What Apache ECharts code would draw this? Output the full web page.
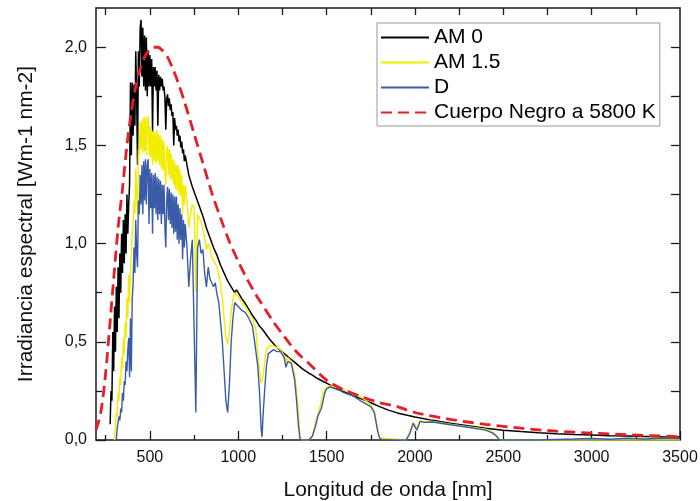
<!DOCTYPE html>
<html>
<head>
<meta charset="utf-8">
<script src="https://cdn.jsdelivr.net/npm/echarts@6/dist/echarts.min.js"></script>
<style>html,body{margin:0;padding:0;background:#fff}#c{width:700px;height:501px}</style>
</head>
<body>
<div id="c"></div>
<script>
// ---- DATA ----
const am0Wl = [275,280,285,290,295,300,305,310,315,320,325,330,335,340,345,350,355,360,365,370,375,380,385,390,395,400,405,410,415,420,425,430,435,440,445,450,455,460,465,470,475,480,485,490,495,500,505,510,515,520,525,530,535,540,545,550,555,560,565,570,575,580,585,590,595,600,605,610,615,620,625,630,635,640,645,650,655,660,665,670,675,680,685,690,695,700,
710,720,730,740,750,760,770,780,790,800,810,820,830,840,850,860,870,880,890,900,910,920,930,940,950,960,970,980,990,1000,
1020,1040,1060,1080,1100,1120,1140,1160,1180,1200,1220,1240,1260,1280,1300,1320,1340,1360,1380,1400,1420,1440,1460,1480,1500,
1550,1600,1650,1700,1750,1800,1850,1900,1950,2000,2100,2200,2300,2400,2500,2600,2700,2800,2900,3000,3100,3200,3300,3400,3500];
const am0 = [0.08,0.25,0.20,0.55,0.35,0.68,0.45,0.78,0.55,0.88,0.62,0.95,0.75,1.05,0.85,1.12,0.90,1.15,0.95,1.25,1.05,1.20,1.30,1.82,1.45,1.82,1.55,1.81,1.60,1.98,1.75,1.40,1.98,1.80,2.10,2.14,1.85,2.10,1.80,2.06,1.78,2.05,1.75,1.98,1.80,1.96,1.80,1.94,1.57,1.90,1.80,1.90,1.78,1.88,1.60,1.86,1.78,1.85,1.80,1.84,1.78,1.80,1.74,1.58,1.74,1.76,1.70,1.74,1.68,1.71,1.65,1.67,1.50,1.64,1.58,1.60,1.55,1.58,1.52,1.55,1.49,1.52,1.46,1.48,1.42,1.45,
1.40,1.35,1.34,1.29,1.30,1.24,1.25,1.19,1.20,1.14,1.14,1.08,1.085,1.03,1.04,0.98,0.99,0.94,0.94,0.89,0.89,0.85,0.85,0.81,0.81,0.78,0.785,0.75,0.765,0.75,
0.72,0.695,0.665,0.635,0.61,0.58,0.56,0.535,0.51,0.49,0.47,0.455,0.44,0.425,0.41,0.395,0.38,0.365,0.352,0.34,0.33,0.318,0.308,0.298,0.29,
0.265,0.245,0.225,0.208,0.19,0.17,0.152,0.138,0.127,0.117,0.10,0.085,0.072,0.06,0.05,0.043,0.037,0.032,0.028,0.025,0.022,0.02,0.018,0.016,0.015];

const am15Wl = [300,305,310,315,320,325,330,335,340,345,350,355,360,365,370,375,380,385,390,395,400,405,410,415,420,425,430,435,440,445,450,455,460,465,470,475,480,485,490,495,500,505,510,515,520,525,530,535,540,545,550,555,560,565,570,575,580,585,590,595,600,605,610,615,620,625,630,635,640,645,650,655,660,665,670,675,680,685,690,695,700,
710,720,730,740,750,760,770,780,790,800,810,820,830,840,850,860,870,880,890,900,910,920,930,940,950,960,970,980,990,1000,
1020,1040,1060,1080,1100,1110,1120,1130,1140,1150,1160,1180,1200,1220,1240,1260,1270,1280,1300,1320,1330,1340,1350,1360,1400,1420,1440,1460,1480,1500,1520,1550,1600,1650,1700,1750,1770,1780,1790,1800,1810,1950,1970,1990,2010,2030,2050,2100,2200,2300,2400,2440,2460,2480,3500];
const am15 = [0,0.08,0.14,0.12,0.24,0.20,0.32,0.28,0.42,0.36,0.52,0.44,0.60,0.52,0.72,0.62,0.84,0.70,0.85,0.95,1.05,1.10,1.22,1.15,1.38,1.25,1.15,1.48,1.45,1.62,1.48,1.63,1.46,1.64,1.47,1.65,1.45,1.62,1.65,1.45,1.60,1.44,1.58,1.40,1.57,1.42,1.57,1.41,1.58,1.42,1.56,1.40,1.55,1.38,1.53,1.37,1.52,1.36,1.30,1.48,1.50,1.35,1.48,1.33,1.46,1.32,1.43,1.30,1.42,1.28,1.40,1.27,1.40,1.25,1.38,1.24,1.35,1.15,1.30,1.20,1.30,
1.22,1.08,1.15,1.20,1.18,0.75,1.15,1.14,1.11,1.10,1.03,0.97,1.00,0.98,0.93,0.94,0.90,0.88,0.84,0.80,0.72,0.62,0.52,0.49,0.55,0.65,0.72,0.75,0.74,0.73,
0.70,0.68,0.65,0.62,0.56,0.45,0.35,0.29,0.32,0.40,0.46,0.48,0.48,0.47,0.46,0.43,0.40,0.42,0.40,0.33,0.25,0.15,0.02,0,0,0.02,0.10,0.16,0.24,0.27,0.275,0.27,0.255,0.24,0.215,0.18,0.15,0.10,0.05,0.01,0,0,0.04,0.09,0.06,0.10,0.095,0.095,0.08,0.068,0.055,0.04,0.025,0,0];

const dWl = [310,315,320,325,330,335,340,345,350,355,360,365,370,375,380,385,390,395,400,405,410,415,420,425,430,435,440,445,450,455,460,465,470,475,480,485,490,495,500,505,510,515,520,525,530,535,540,545,550,555,560,565,570,575,580,585,590,595,600,605,610,615,620,625,630,635,640,645,650,655,660,665,670,675,680,685,690,695,700,
710,720,730,740,750,760,770,780,790,800,810,820,830,840,850,860,870,880,890,900,910,920,930,940,950,960,970,980,990,1000,
1020,1040,1060,1080,1090,1100,1110,1120,1130,1135,1140,1150,1160,1170,1180,1200,1220,1240,1260,1270,1280,1300,1310,1320,1330,1340,1350,1400,1420,1440,1450,1460,1470,1480,1490,1500,1520,1550,1580,1600,1650,1700,1750,1770,1780,1790,1800,1815,1950,1970,1990,2010,2030,2050,2100,2200,2300,2400,2440,2460,2480,2700,2900,3000,3100,3200,3300,3400,3500];
const d = [0,0.06,0.05,0.12,0.10,0.16,0.14,0.24,0.20,0.30,0.28,0.40,0.35,0.46,0.52,0.32,0.62,0.35,0.72,0.80,0.98,0.85,1.12,0.95,0.88,1.22,1.15,1.35,1.20,1.40,1.15,1.42,1.22,1.43,1.20,1.40,1.43,1.10,1.38,1.18,1.36,1.05,1.35,1.18,1.36,1.15,1.34,1.12,1.33,1.15,1.32,1.10,1.30,1.15,1.30,1.08,0.98,1.22,1.29,1.12,1.28,1.10,1.26,1.08,1.25,1.05,1.24,1.06,1.24,1.02,1.20,1.00,1.18,1.02,1.15,0.92,1.12,0.98,1.10,
0.98,0.78,0.92,1.02,1.03,0.14,0.98,1.02,0.95,0.97,0.85,0.78,0.88,0.82,0.83,0.78,0.80,0.74,0.70,0.60,0.50,0.35,0.20,0.14,0.28,0.50,0.62,0.70,0.71,0.68,
0.66,0.65,0.62,0.58,0.52,0.45,0.38,0.25,0.05,0.015,0.12,0.26,0.38,0.44,0.45,0.46,0.45,0.45,0.42,0.37,0.40,0.39,0.35,0.30,0.20,0.08,0,0,0.02,0.08,0.12,0.11,0.16,0.20,0.24,0.26,0.27,0.26,0.25,0.24,0.225,0.195,0.17,0.14,0.09,0.04,0.01,0,0,0.03,0.085,0.05,0.095,0.09,0.092,0.078,0.065,0.05,0.035,0.02,0,0,0.005,0.008,0.004,0.009,0.005,0.01,0.008];

const bbWl = [195,220,245,270,295,320,345,370,395,420,445,470,495,520,545,570,600,630,660,700,750,800,850,900,950,1000,1050,1100,1150,1200,1250,1300,1350,1400,1500,1600,1700,1800,1900,2000,2200,2400,2600,2800,3000,3200,3500];
const bb = [0.05,0.13,0.30,0.55,0.82,1.08,1.28,1.50,1.67,1.80,1.89,1.95,1.985,2.0,2.0,1.985,1.95,1.89,1.82,1.71,1.56,1.41,1.26,1.13,1.01,0.91,0.82,0.74,0.67,0.60,0.54,0.48,0.43,0.39,0.305,0.255,0.22,0.19,0.17,0.14,0.105,0.08,0.06,0.045,0.035,0.027,0.017];

const seriesNames = ['AM 0','AM 1.5','D','Cuerpo Negro a 5800 K'];
const annoText = ['O3','H2O,O2','H2O','H2O','H2O,CO2','H2O,CO2','H2O,CO2'];
const annoWl = [529,463,1010,1197,1435,1904,2465];
const annoVal = [1.16,0.748,0.814,0.575,0.40,0.219,0.117];

const xMajorTicks = [500,1000,1500,2000,2500,3000,3500];
const xMinorTicks = [250,750,1250,1750,2250,2750,3250];
const xTopTicks = [250,500,750,1000,1250,1500,1750,2000,2250,2500,2750,3000,3250];
const yMajorTicks = [0,0.5,1.0,1.5,2.0];
const yMinorTicks = [0.25,0.75,1.25,1.75];
const yRightTicks = [0.25,0.5,0.75,1.0,1.25,1.5,1.75,2.0];

// ---- CHART ----
const zip = (xs, ys) => xs.map((x, i) => [x, ys[i]]);
const FONT = 'Liberation Sans, Arial, sans-serif';
const AX = '#1a1a1a';
const chart = echarts.init(document.getElementById('c'), null, {renderer: 'canvas'});
const XMIN = 195, XMAX = 3500, YMIN = 0, YMAX = 2.2;
const baseX = {type:'value', min:XMIN, max:XMAX, splitLine:{show:false}, gridIndex:0};
const baseY = {type:'value', min:YMIN, max:YMAX, splitLine:{show:false}, gridIndex:0};

chart.setOption({
  animation: false,
  backgroundColor: '#fff',
  textStyle: {fontFamily: FONT},
  grid: {left: 96, right: 20, top: 8, bottom: 61, containLabel: false, outerBoundsMode: 'none'},
  legend: {
    orient: 'vertical', left: 377, top: 23,
    data: seriesNames,
    borderColor: '#999', borderWidth: 1, borderRadius: 0,
    padding: [4, 4, 3, 3],
    itemWidth: 48, itemHeight: 14, itemGap: 4,
    itemStyle: {opacity: 0},
    textStyle: {fontSize: 21, color: '#000', fontFamily: FONT},
    backgroundColor: '#fff'
  },
  xAxis: [
    Object.assign({}, baseX, {
      position: 'bottom',
      axisLine: {show: true, onZero: false, lineStyle: {color: AX, width: 1.5}},
      axisTick: {show: true, inside: true, length: 9, customValues: xMajorTicks, lineStyle: {color: AX, width: 1.3}},
      axisLabel: {customValues: xMajorTicks, fontSize: 16, color: '#111', margin: 10, fontFamily: FONT,
        formatter: v => String(v)},
      name: 'Longitud de onda [nm]', nameLocation: 'middle', nameGap: 40,
      nameTextStyle: {fontSize: 21, color: '#111', fontFamily: FONT}
    }),
    Object.assign({}, baseX, {
      position: 'bottom',
      axisLine: {show: false, onZero: false},
      axisTick: {show: true, inside: true, length: 5, customValues: xMinorTicks, lineStyle: {color: AX, width: 1.3}},
      axisLabel: {show: false}
    }),
    Object.assign({}, baseX, {
      position: 'top',
      axisLine: {show: true, onZero: false, lineStyle: {color: AX, width: 1.5}},
      axisTick: {show: true, inside: true, length: 7, customValues: xTopTicks, lineStyle: {color: AX, width: 1.3}},
      axisLabel: {show: false}
    })
  ],
  yAxis: [
    Object.assign({}, baseY, {
      position: 'left',
      axisLine: {show: true, onZero: false, lineStyle: {color: AX, width: 1.5}},
      axisTick: {show: true, inside: true, length: 10, customValues: yMajorTicks, lineStyle: {color: AX, width: 1.3}},
      axisLabel: {customValues: yMajorTicks, fontSize: 16, color: '#111', margin: 9, fontFamily: FONT,
        formatter: v => v.toFixed(1).replace('.', ',')},
      name: 'Irradiancia espectral [Wm-1 nm-2]', nameLocation: 'middle', nameGap: 59,
      nameTextStyle: {fontSize: 21, color: '#111', fontFamily: FONT}
    }),
    Object.assign({}, baseY, {
      position: 'left',
      axisLine: {show: false, onZero: false},
      axisTick: {show: true, inside: true, length: 6, customValues: yMinorTicks, lineStyle: {color: AX, width: 1.3}},
      axisLabel: {show: false}
    }),
    Object.assign({}, baseY, {
      position: 'right',
      axisLine: {show: true, onZero: false, lineStyle: {color: AX, width: 1.5}},
      axisTick: {show: true, inside: true, length: 9, customValues: yRightTicks, lineStyle: {color: AX, width: 1.3}},
      axisLabel: {show: false}
    })
  ],
  series: [
    {name: seriesNames[0], type: 'line', data: zip(am0Wl, am0), showSymbol: false, symbol: 'none',
     color: '#000', lineStyle: {color: '#000', width: 1.5}, z: 2},
    {name: seriesNames[1], type: 'line', data: zip(am15Wl, am15), showSymbol: false, symbol: 'none',
     color: '#f2ec00', lineStyle: {color: '#f2ec00', width: 1.4}, z: 3},
    {name: seriesNames[2], type: 'line', data: zip(dWl, d), showSymbol: false, symbol: 'none',
     color: '#3a5ca8', lineStyle: {color: '#3a5ca8', width: 1.4}, z: 4},
    {name: seriesNames[3], type: 'line', data: zip(bbWl, bb), showSymbol: false, symbol: 'none', smooth: 0.3,
     color: '#e61e28', lineStyle: {color: '#e61e28', width: 2.8, type: [11, 6]}, z: 5},
    {name: 'anno', type: 'scatter', data: zip(annoWl, annoVal).map((p, i) => ({value: p, name: annoText[i]})),
     symbolSize: 1, itemStyle: {opacity: 0}, z: 6, silent: true,
     label: {show: true, position: 'right', distance: 0, formatter: p => p.name,
       fontSize: 16, color: '#111', fontFamily: FONT}}
  ]
});
</script>
</body>
</html>
